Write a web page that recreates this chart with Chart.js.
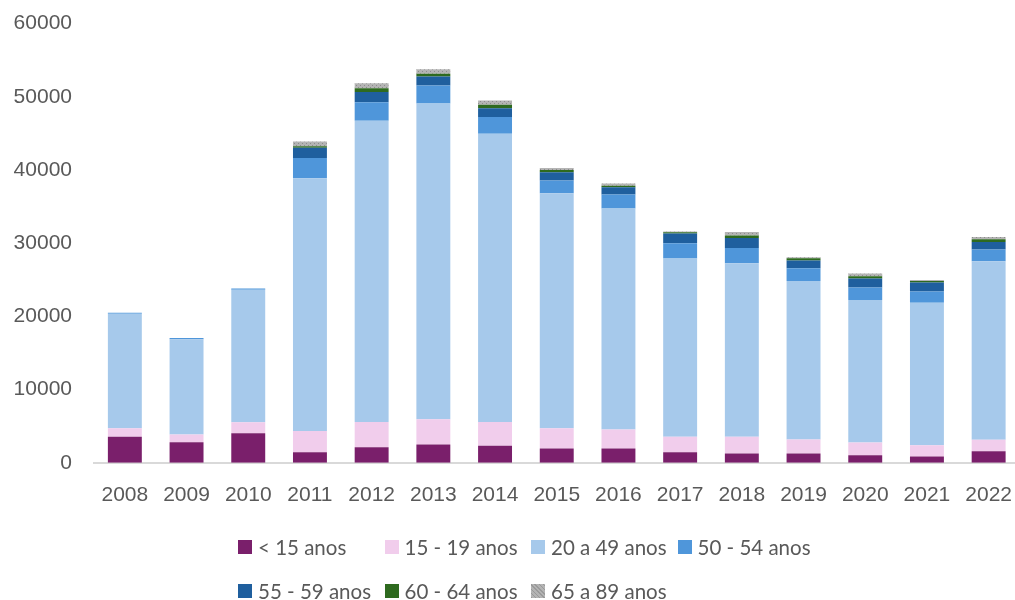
<!DOCTYPE html>
<html>
<head>
<meta charset="utf-8">
<script src="https://cdn.jsdelivr.net/npm/chart.js@4.4.1/dist/chart.umd.min.js"></script>
<style>
  html, body { margin: 0; padding: 0; background: #fff; overflow: hidden; }
  #wrap { position: relative; width: 1015px; height: 600px; overflow: hidden; }
  #chart { display: block; margin-top: -11px; }
  #legend {
    position: absolute; left: 238px; top: 538px;
    display: grid; grid-template-columns: repeat(4, 146.5px); row-gap: 26px;
    font-family: Lato, "Open Sans", sans-serif; font-size: 20.5px; color: #595959;
  }
  .item { display: flex; align-items: center; height: 18px; white-space: nowrap; }
  .box { width: 14px; height: 14px; margin-right: 6px; flex: none; }
</style>
</head>
<body>
<div id="wrap">
  <canvas id="chart" width="1032" height="611"></canvas>
  <div id="legend"></div>
</div>
<script>
const years = ['2008', '2009', '2010', '2011', '2012', '2013', '2014', '2015', '2016', '2017', '2018', '2019', '2020', '2021', '2022'];

const under15 = [3550, 2820, 4050, 1450, 2140, 2500, 2320, 1950, 1950, 1450, 1270, 1270, 1040, 860, 1590];
const age15to19 = [1180, 1040, 1500, 2910, 3450, 3460, 3270, 2780, 2600, 2100, 2280, 1910, 1730, 1550, 1550];
const age20to49 = [15630, 13010, 18090, 34500, 41140, 43130, 39360, 32090, 30180, 24360, 23720, 21640, 19460, 19450, 24410];
const age50to54 = [140, 180, 180, 2770, 2540, 2460, 2280, 1730, 1910, 2090, 2090, 1770, 1730, 1550, 1590];
const age55to59 = [0, 0, 0, 1420, 1370, 1220, 1220, 1130, 1000, 1320, 1360, 1050, 1220, 1230, 1040];
const age60to64 = [0, 0, 0, 180, 540, 370, 460, 320, 220, 180, 330, 310, 320, 180, 370];
const age65to89 = [0, 0, 0, 680, 680, 630, 590, 270, 280, 90, 490, 140, 360, 140, 310];

const yTicks = [0, 10000, 20000, 30000, 40000, 50000, 60000];

// dotted grey fill like the original
function greyPattern() {
    const c = document.createElement('canvas');
    c.width = 4;
    c.height = 4;
    const g = c.getContext('2d');
    g.fillStyle = '#b4b4b4';
    g.fillRect(0, 0, 4, 4);
    g.fillStyle = '#8c8c8c';
    g.fillRect(0, 0, 1, 1);
    g.fillRect(2, 2, 1, 1);
    return g.createPattern(c, 'repeat');
}

const textColor = '#595959';
const tickFont = { family: '"Liberation Sans", Arial, sans-serif', size: 21 };

function ds(label, data, color) {
    return {
        label: label,
        data: data,
        backgroundColor: color,
        borderWidth: 0,
        barPercentage: 0.55,
        categoryPercentage: 1.0
    };
}

const chart = new Chart(document.getElementById('chart').getContext('2d'), {
    type: 'bar',
    data: {
        labels: years,
        datasets: [
            ds('< 15 anos', under15, '#7a1f6b'),
            ds('15 - 19 anos', age15to19, '#f1cdec'),
            ds('20 a 49 anos', age20to49, '#a6c9eb'),
            ds('50 - 54 anos', age50to54, '#4f96da'),
            ds('55 - 59 anos', age55to59, '#1f5f9e'),
            ds('60 - 64 anos', age60to64, '#2e6a1f'),
            ds('65 a 89 anos', age65to89, greyPattern())
        ]
    },
    options: {
        responsive: false,
        animation: false,
        layout: { padding: { left: 13, right: 0, top: 0, bottom: 72 } },
        plugins: {
            legend: { display: false },
            tooltip: { enabled: false }
        },
        scales: {
            x: {
                stacked: true,
                grid: { display: false, drawTicks: false },
                border: { display: true, color: '#d9d9d9', width: 2 },
                ticks: { color: textColor, font: tickFont, padding: 20, maxRotation: 0 }
            },
            y: {
                stacked: true,
                min: 0,
                max: 60000,
                afterBuildTicks: axis => { axis.ticks = yTicks.map(v => ({ value: v })); },
                afterFit: axis => { axis.width = 81; },
                grid: { display: false, drawTicks: false },
                border: { display: false },
                ticks: { color: textColor, font: tickFont, padding: 22, callback: v => String(v) }
            }
        }
    }
});

// legend laid out as a grid, like the original
const legendEl = document.getElementById('legend');
chart.data.datasets.forEach(d => {
    const item = document.createElement('div');
    item.className = 'item';
    const box = document.createElement('span');
    box.className = 'box';
    if (typeof d.backgroundColor === 'string') {
        box.style.background = d.backgroundColor;
    } else {
        box.style.background = 'repeating-linear-gradient(45deg, #9a9a9a 0 1px, #b4b4b4 1px 3px)';
    }
    item.appendChild(box);
    item.appendChild(document.createTextNode(d.label));
    legendEl.appendChild(item);
});
</script>
</body>
</html>
